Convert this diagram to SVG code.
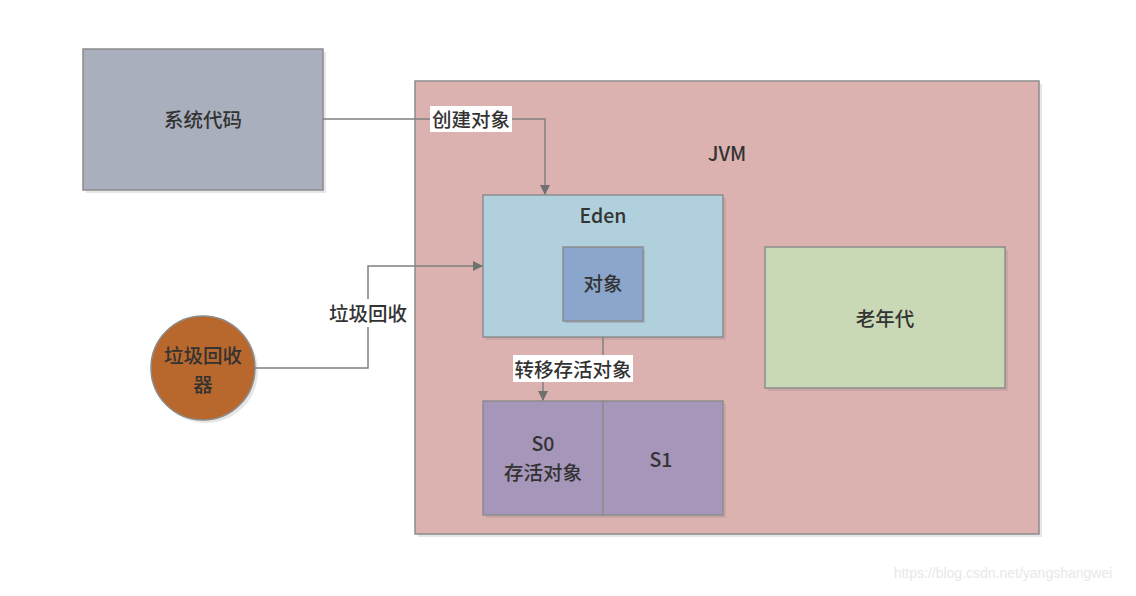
<svg xmlns="http://www.w3.org/2000/svg" width="1136" height="596" viewBox="0 0 1136 596">
<defs>
<style>
.box{stroke:#8c8c8c;stroke-width:1.5}
.sh{fill:#e6e6e6}
.t{font-family:"Noto Sans CJK SC","Noto Sans",sans-serif;font-size:19.5px;fill:#333;text-anchor:middle;dominant-baseline:central;font-weight:500}
.c{fill:none;stroke:#808080;stroke-width:1.5}
.lb{fill:#ffffff}
</style>
<marker id="ah" markerWidth="10" markerHeight="10" refX="9" refY="5" orient="auto" markerUnits="userSpaceOnUse">
<path d="M0,0 L10,5 L0,10 Z" fill="#707070"/>
</marker>
</defs>
<rect width="1136" height="596" fill="#ffffff"/>
<g id="sys">
<rect x="86" y="52" width="240" height="141" class="sh"/>
<rect x="83" y="49" width="240" height="141" fill="#a9afbd" class="box"/>
<text x="203" y="118" class="t">系统代码</text>
</g>
<g id="jvm">
<rect x="418" y="84" width="624" height="453" class="sh"/>
<rect x="415" y="81" width="624" height="453" fill="#dcb2b1" class="box"/>
<text x="727" y="152" class="t">JVM</text>
</g>
<g id="gc">
<circle cx="206" cy="371" r="52" fill="#e6e6e6"/>
<circle cx="203" cy="368" r="52" fill="#b8682d" class="box"/>
<text x="203" y="354" class="t">垃圾回收</text>
<text x="203" y="383" class="t">器</text>
</g>
<g id="eden">
<rect x="486" y="198" width="240" height="142" fill="#c9a5a5"/>
<rect x="483" y="195" width="240" height="142" fill="#b0d0de" class="box"/>
<text x="603" y="214" class="t">Eden</text>
</g>
<g id="obj">
<rect x="565" y="249" width="80" height="74" fill="#9fb5c5"/>
<rect x="563" y="247" width="80" height="74" fill="#8aa6cc" class="box"/>
<text x="603" y="282" class="t">对象</text>
</g>
<g id="old">
<rect x="768" y="250" width="240" height="141" fill="#c9a5a5"/>
<rect x="765" y="247" width="240" height="141" fill="#cad9b5" class="box"/>
<text x="885" y="317" class="t">老年代</text>
</g>
<g id="s0">
<rect x="486" y="404" width="240" height="114" fill="#c9a5a5"/>
<rect x="483" y="401" width="120" height="114" fill="#a696ba" class="box"/>
<text x="543" y="442" class="t">S0</text>
<text x="543" y="471" class="t">存活对象</text>
</g>
<g id="s1">
<rect x="603" y="401" width="120" height="114" fill="#a696ba" class="box"/>
<text x="661" y="458" class="t">S1</text>
</g>
<g id="connectors">
<path d="M323,119 H545 V194" class="c" marker-end="url(#ah)"/>
<path d="M255,368 H368 V266 H482" class="c" marker-end="url(#ah)"/>
<path d="M603,337 V369 H543 V400" class="c" marker-end="url(#ah)"/>
<rect x="430" y="106" width="82" height="26" class="lb"/>
<text x="471" y="118" class="t">创建对象</text>
<rect x="326" y="299" width="84" height="28" class="lb"/>
<text x="368" y="312" class="t">垃圾回收</text>
<rect x="513" y="355" width="120" height="27" class="lb"/>
<text x="573" y="368" class="t">转移存活对象</text>
</g>
<text x="1003" y="578" font-family="Liberation Sans,Arial,sans-serif" font-size="14" fill="#e8e8e8" text-anchor="middle">https://blog.csdn.net/yangshangwei</text>
</svg>
